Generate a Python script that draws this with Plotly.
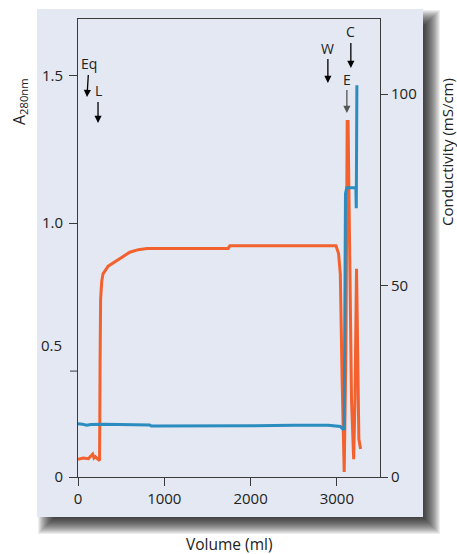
import plotly.graph_objects as go

# ---------------- data ----------------
volume_a280 = [0, 60, 120, 170, 185, 200, 230, 250, 256, 262, 275, 290, 350, 440, 520, 600, 700,
               800, 1740, 1760, 2500, 2990, 3020, 3040, 3060, 3085, 3105, 3120, 3130, 3145,
               3170, 3195, 3210, 3228, 3240, 3255, 3275]
a280 = [0.07, 0.075, 0.072, 0.09, 0.075, 0.08, 0.07, 0.065, 0.45, 0.70, 0.77, 0.80, 0.83, 0.85,
        0.87, 0.885, 0.895, 0.90, 0.90, 0.91, 0.91, 0.91, 0.88, 0.80, 0.40, 0.02, 0.50, 1.40,
        1.40, 0.90, 0.30, 0.07, 0.30, 0.82, 0.50, 0.15, 0.11]

volume_cond = [0, 50, 100, 150, 300, 500, 700, 830, 850, 1500, 2000, 2500, 2900, 3040, 3070,
               3085, 3095, 3100, 3115, 3220, 3225, 3232]
conductivity = [13.9, 13.8, 13.5, 13.7, 13.8, 13.7, 13.7, 13.6, 13.3, 13.3, 13.4, 13.5, 13.5,
                13.2, 12.5, 12.6, 40.0, 74.0, 75.5, 75.5, 70.2, 102.3]

x_tick_vals = [0, 1000, 2000, 3000]
a280_tick_vals = [0, 1.0, 1.579]
a280_tick_text = ["0", "1.0", "1.5"]
a280_unlabeled_tick = 0.417
a280_half_label = "0.5"
a280_half_value = 0.52
cond_tick_vals = [0, 50, 100]

event_labels = ["Eq", "L", "W", "C", "E"]
event_volumes = [104, 232, 2896, 3162, 3116]

# ---------------- layout geometry ----------------
W, H = 457, 554
L, R, T, B = 78, 380, 19, 477
PW, PH = R - L, B - T


def px(xp):
    return (xp - L) / PW


def py(yp):
    return (B - yp) / PH


ORANGE = "#f2612e"
BLUE = "#2b8cbf"
PANEL = "#e3e8f2"
AX = "#3a3a3a"
TXT = "#222222"
FONT = "Open Sans"

fig = go.Figure()
fig.add_trace(go.Scatter(x=volume_cond, y=conductivity, yaxis="y2", mode="lines",
                         line=dict(color=BLUE, width=3), showlegend=False, hoverinfo="skip"))
fig.add_trace(go.Scatter(x=volume_a280, y=a280, yaxis="y", mode="lines",
                         line=dict(color=ORANGE, width=3), showlegend=False, hoverinfo="skip"))

shapes = []
# drop shadow (soft)
for e in range(-7, 10):
    shapes.append(dict(type="rect", xref="paper", yref="paper", layer="below",
                       x0=px(37 + 10 - e), x1=px(423 + 8 + e), y0=py(517 + 8 + e), y1=py(9 + 10 - e),
                       fillcolor="rgba(0,0,0,0.07)", line=dict(width=0)))
# panel
shapes.append(dict(type="rect", xref="paper", yref="paper", layer="below",
                   x0=px(37), x1=px(423), y0=py(517), y1=py(9),
                   fillcolor=PANEL, line=dict(width=0)))
# unlabeled tick on the A280 axis
shapes.append(dict(type="line", xref="paper", yref="y", x0=px(70), x1=px(78),
                   y0=a280_unlabeled_tick, y1=a280_unlabeled_tick,
                   line=dict(color=AX, width=1)))

annotations = []
arrow_specs = {"Eq": (-33, 2, "black"), "L": (-32, 0, "black"), "W": (-35, 0, "black"),
               "C": (-36, 0, "black"), "E": (-34, 0, "#555555")}
tip_y = {"Eq": 97, "L": 123, "W": 83, "C": 68, "E": 113}
for lab, vol in zip(event_labels, event_volumes):
    ay, ax, col = arrow_specs[lab]
    annotations.append(dict(x=vol, y=py(tip_y[lab]), xref="x", yref="paper", text=lab,
                            showarrow=True, arrowhead=2, arrowsize=1.1, arrowwidth=1.3,
                            arrowcolor=col, ax=ax, ay=ay, standoff=0,
                            font=dict(family=FONT, size=14, color=TXT)))
# extra 0.5 label on the A280 axis
annotations.append(dict(x=px(64), y=a280_half_value, xref="paper", yref="y", text=a280_half_label,
                        showarrow=False, xanchor="right", yanchor="middle",
                        font=dict(family=FONT, size=15, color=TXT)))
# axis titles
annotations.append(dict(x=px(229), y=py(544), xref="paper", yref="paper", text="Volume (ml)",
                        showarrow=False, xanchor="center", yanchor="middle",
                        font=dict(family=FONT, size=15.5, color=TXT)))
annotations.append(dict(x=px(19), y=py(102), xref="paper", yref="paper",
                        text="A<sub>280nm</sub>", showarrow=False, textangle=-90,
                        xanchor="center", yanchor="middle",
                        font=dict(family=FONT, size=16, color=TXT)))
annotations.append(dict(x=px(447), y=py(152), xref="paper", yref="paper",
                        text="Conductivity (mS/cm)", showarrow=False, textangle=-90,
                        xanchor="center", yanchor="middle",
                        font=dict(family=FONT, size=15, color=TXT)))

tf = dict(family=FONT, size=15, color=TXT)
fig.update_layout(
    width=W, height=H, autosize=False,
    margin=dict(l=L, r=W - R, t=T, b=H - B, pad=0),
    paper_bgcolor="white", plot_bgcolor="rgba(0,0,0,0)",
    font=dict(family=FONT, size=15, color=TXT),
    shapes=shapes, annotations=annotations,
    xaxis=dict(range=[0, 3500], tickmode="array", tickvals=x_tick_vals,
               ticks="outside", ticklen=8, tickcolor=AX, showgrid=False, zeroline=False,
               showline=True, linecolor=AX, linewidth=1, mirror=True, tickfont=tf),
    yaxis=dict(range=[0, PH / 254.0], tickmode="array", tickvals=a280_tick_vals,
               ticktext=a280_tick_text, ticks="outside", ticklen=8, tickcolor=AX,
               ticklabelstandoff=3,
               showgrid=False, zeroline=False, showline=True, linecolor=AX, linewidth=1,
               tickfont=tf),
    yaxis2=dict(range=[0, PH / 3.83], overlaying="y", side="right", tickmode="array",
                tickvals=cond_tick_vals, ticks="outside", ticklen=7, tickcolor=AX,
                showgrid=False, zeroline=False, showline=True, linecolor=AX, linewidth=1,
                tickfont=tf),
)

fig.write_html("out.html")
